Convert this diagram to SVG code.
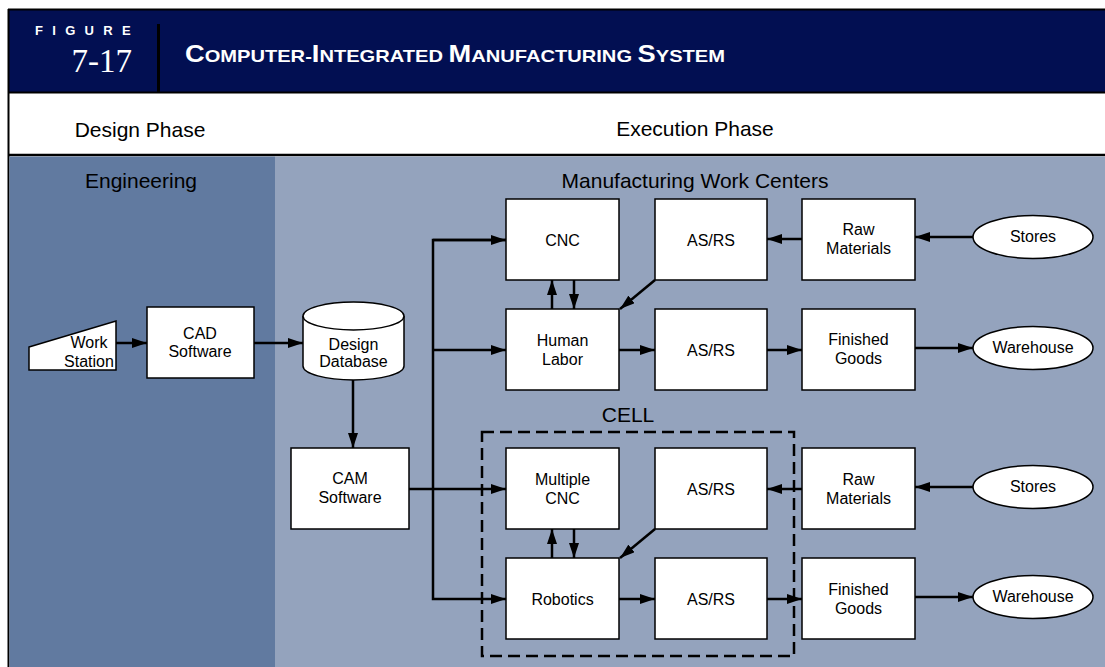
<svg xmlns="http://www.w3.org/2000/svg" width="1105" height="667" viewBox="0 0 1105 667">
<defs>
<style>
.box{fill:#fff;stroke:#000;stroke-width:1.5}
.lbl{font-family:"Liberation Sans",Arial,sans-serif;font-size:16px;fill:#000;text-anchor:middle}
.hd{font-family:"Liberation Sans",Arial,sans-serif;font-size:21px;fill:#000;text-anchor:middle}
.cn{fill:none;stroke:#000;stroke-width:2.5}
.ttl{font-family:"Liberation Sans",Arial,sans-serif;font-weight:bold;fill:#fff}
</style>
<marker id="ah" markerUnits="userSpaceOnUse" markerWidth="16" markerHeight="10" refX="15" refY="5" orient="auto">
<path d="M0,0 L15,5 L0,10 z" fill="#000"/>
</marker>
</defs>
<rect width="1105" height="667" fill="#fff"/>
<!-- header -->
<rect x="9" y="10" width="1096" height="82" fill="#020f52"/>
<line x1="8" y1="9.5" x2="1105" y2="9.5" stroke="#000" stroke-width="2"/>
<line x1="8" y1="92.5" x2="1105" y2="92.5" stroke="#000" stroke-width="2"/>
<line x1="158.5" y1="24" x2="158.5" y2="92" stroke="#000" stroke-width="3"/>
<line x1="8" y1="155" x2="1105" y2="155" stroke="#000" stroke-width="2.5"/>
<line x1="8.5" y1="9" x2="8.5" y2="667" stroke="#000" stroke-width="2"/>
<text x="35" y="35" class="ttl" style="font-size:13px;letter-spacing:9.3px">FIGURE</text>
<text x="132" y="72" text-anchor="end" style="font-family:'Liberation Serif','Times New Roman',serif;font-size:33px;fill:#fff">7-17</text>
<text x="185" y="62" class="ttl" textLength="540" lengthAdjust="spacingAndGlyphs"><tspan style="font-size:23px">C</tspan><tspan style="font-size:17px">OMPUTER-</tspan><tspan style="font-size:23px">I</tspan><tspan style="font-size:17px">NTEGRATED </tspan><tspan style="font-size:23px">M</tspan><tspan style="font-size:17px">ANUFACTURING </tspan><tspan style="font-size:23px">S</tspan><tspan style="font-size:17px">YSTEM</tspan></text>
<text x="140" y="137" class="hd">Design Phase</text>
<text x="695" y="136" class="hd">Execution Phase</text>
<!-- panels -->
<rect x="9.5" y="156.5" width="265.5" height="510.5" fill="#617aa0"/>
<rect x="275" y="156.5" width="830" height="510.5" fill="#94a3bd"/>
<text x="141" y="188" class="hd">Engineering</text>
<text x="695" y="188" class="hd">Manufacturing Work Centers</text>
<!-- cell -->
<g id="cell">
<rect x="482" y="432" width="312" height="224" fill="none" stroke="#000" stroke-width="2.5" stroke-dasharray="12 6"/>
<text x="628" y="422" class="hd">CELL</text>
</g>
<!-- connectors -->
<g id="connectors">
<line class="cn" x1="116" y1="343" x2="147" y2="343" marker-end="url(#ah)"/>
<line class="cn" x1="254" y1="343" x2="303" y2="343" marker-end="url(#ah)"/>
<line class="cn" x1="353" y1="380" x2="353" y2="448" marker-end="url(#ah)"/>
<line class="cn" x1="409" y1="489" x2="506" y2="489" marker-end="url(#ah)"/>
<polyline class="cn" points="506,240 433,240 433,599 506,599" marker-end="url(#ah)"/>
<line class="cn" x1="433" y1="240" x2="506" y2="240" marker-end="url(#ah)"/>
<line class="cn" x1="433" y1="350" x2="506" y2="350" marker-end="url(#ah)"/>
<line class="cn" x1="552" y1="309" x2="552" y2="280" marker-end="url(#ah)"/>
<line class="cn" x1="574" y1="280" x2="574" y2="309" marker-end="url(#ah)"/>
<line class="cn" x1="655" y1="280" x2="620" y2="309" marker-end="url(#ah)"/>
<line class="cn" x1="802" y1="239" x2="767" y2="239" marker-end="url(#ah)"/>
<line class="cn" x1="973" y1="237" x2="915" y2="237" marker-end="url(#ah)"/>
<line class="cn" x1="619" y1="350" x2="655" y2="350" marker-end="url(#ah)"/>
<line class="cn" x1="767" y1="350" x2="802" y2="350" marker-end="url(#ah)"/>
<line class="cn" x1="915" y1="348" x2="973" y2="348" marker-end="url(#ah)"/>
<line class="cn" x1="552" y1="558" x2="552" y2="529" marker-end="url(#ah)"/>
<line class="cn" x1="574" y1="529" x2="574" y2="558" marker-end="url(#ah)"/>
<line class="cn" x1="655" y1="529" x2="620" y2="558" marker-end="url(#ah)"/>
<line class="cn" x1="802" y1="489" x2="767" y2="489" marker-end="url(#ah)"/>
<line class="cn" x1="973" y1="487" x2="915" y2="487" marker-end="url(#ah)"/>
<line class="cn" x1="619" y1="599" x2="655" y2="599" marker-end="url(#ah)"/>
<line class="cn" x1="767" y1="599" x2="802" y2="599" marker-end="url(#ah)"/>
<line class="cn" x1="915" y1="597" x2="973" y2="597" marker-end="url(#ah)"/>
</g>
<!-- nodes -->
<g id="workstation">
<polygon class="box" points="29,347 116,321 116,370 29,370"/>
<text x="89" y="348" class="lbl">Work</text>
<text x="89" y="367" class="lbl">Station</text>
</g>
<g id="cad">
<rect class="box" x="147" y="307" width="107" height="71"/>
<text x="200" y="339" class="lbl">CAD</text>
<text x="200" y="357" class="lbl">Software</text>
</g>
<g id="designdb">
<path class="box" d="M303,316 L303,366 A50.5,14 0 0 0 404,366 L404,316"/>
<ellipse class="box" cx="353.5" cy="316" rx="50.5" ry="14"/>
<text x="353.5" y="350" class="lbl">Design</text>
<text x="353.5" y="367" class="lbl">Database</text>
</g>
<g id="cam">
<rect class="box" x="291" y="448" width="118" height="81"/>
<text x="350" y="484" class="lbl">CAM</text>
<text x="350" y="503" class="lbl">Software</text>
</g>
<g id="cnc">
<rect class="box" x="506" y="199" width="113" height="81"/>
<text x="562.5" y="246" class="lbl">CNC</text>
</g>
<g id="humanlabor">
<rect class="box" x="506" y="309" width="113" height="81"/>
<text x="562.5" y="346" class="lbl">Human</text>
<text x="562.5" y="365" class="lbl">Labor</text>
</g>
<g id="asrs1">
<rect class="box" x="655" y="199" width="112" height="81"/>
<text x="711" y="246" class="lbl">AS/RS</text>
</g>
<g id="raw1">
<rect class="box" x="802" y="199" width="113" height="81"/>
<text x="858.5" y="235" class="lbl">Raw</text>
<text x="858.5" y="254" class="lbl">Materials</text>
</g>
<g id="stores1">
<ellipse class="box" cx="1033" cy="237" rx="60" ry="21.5"/>
<text x="1033" y="242" class="lbl">Stores</text>
</g>
<g id="asrs2">
<rect class="box" x="655" y="309" width="112" height="81"/>
<text x="711" y="356" class="lbl">AS/RS</text>
</g>
<g id="finished1">
<rect class="box" x="802" y="309" width="113" height="81"/>
<text x="858.5" y="345" class="lbl">Finished</text>
<text x="858.5" y="364" class="lbl">Goods</text>
</g>
<g id="warehouse1">
<ellipse class="box" cx="1033" cy="348" rx="60" ry="21.5"/>
<text x="1033" y="353" class="lbl">Warehouse</text>
</g>
<g id="multicnc">
<rect class="box" x="506" y="448" width="113" height="81"/>
<text x="562.5" y="485" class="lbl">Multiple</text>
<text x="562.5" y="504" class="lbl">CNC</text>
</g>
<g id="robotics">
<rect class="box" x="506" y="558" width="113" height="81"/>
<text x="562.5" y="605" class="lbl">Robotics</text>
</g>
<g id="asrs3">
<rect class="box" x="655" y="448" width="112" height="81"/>
<text x="711" y="495" class="lbl">AS/RS</text>
</g>
<g id="raw2">
<rect class="box" x="802" y="448" width="113" height="81"/>
<text x="858.5" y="485" class="lbl">Raw</text>
<text x="858.5" y="504" class="lbl">Materials</text>
</g>
<g id="stores2">
<ellipse class="box" cx="1033" cy="487" rx="60" ry="21.5"/>
<text x="1033" y="492" class="lbl">Stores</text>
</g>
<g id="asrs4">
<rect class="box" x="655" y="558" width="112" height="81"/>
<text x="711" y="605" class="lbl">AS/RS</text>
</g>
<g id="finished2">
<rect class="box" x="802" y="558" width="113" height="81"/>
<text x="858.5" y="595" class="lbl">Finished</text>
<text x="858.5" y="614" class="lbl">Goods</text>
</g>
<g id="warehouse2">
<ellipse class="box" cx="1033" cy="597" rx="60" ry="21.5"/>
<text x="1033" y="602" class="lbl">Warehouse</text>
</g>
</svg>
